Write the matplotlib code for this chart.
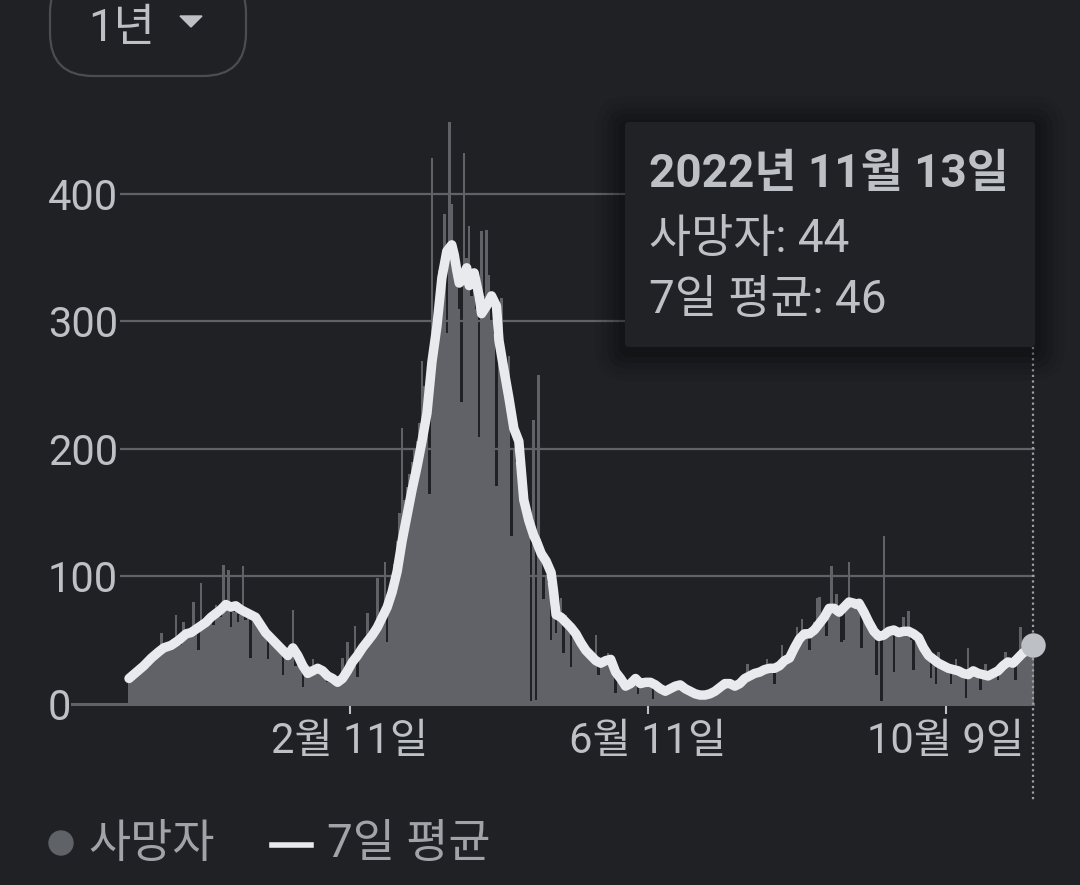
import numpy as np
import pandas as pd
import matplotlib
matplotlib.use('Agg')
import matplotlib.pyplot as plt
from matplotlib.patches import FancyBboxPatch, Circle, Polygon

plt.rcParams['font.family'] = ['Roboto', 'Noto Sans CJK KR', 'DejaVu Sans']

# 일별 사망자 (2021-11-14 ~ 2022-11-13), 월별로 나눠서
start_date = pd.Timestamp('2021-11-14')
d_nov21 = [18, 22, 24, 21, 28, 26, 30, 33, 29, 38, 35, 40, 44, 56, 42, 47, 45]
d_dec21 = [48, 44, 70, 50, 46, 64, 52, 55, 58, 80, 60, 42, 95, 62, 60, 66, 70, 62, 78, 72,
           68, 109, 74, 105, 60, 72, 80, 64, 70, 108, 66]
d_jan22 = [70, 36, 72, 66, 64, 58, 60, 52, 35, 55, 50, 46, 48, 42, 23, 40, 38, 44, 74, 30,
           34, 28, 13, 24, 22, 30, 35, 26, 30, 24, 28]
d_feb22 = [22, 17, 22, 20, 18, 16, 19, 36, 22, 49, 28, 34, 61, 21, 40, 44, 48, 71, 50, 56,
           60, 99, 64, 70, 111, 49, 88, 96]
d_mar22 = [110, 128, 150, 216, 160, 170, 180, 190, 200, 206, 220, 269, 249, 240, 165, 428,
           300, 320, 340, 350, 384, 291, 456, 392, 360, 340, 310, 237, 432, 350, 375]
d_apr22 = [320, 330, 310, 209, 371, 320, 372, 336, 300, 290, 171, 280, 318, 250, 240, 273,
           132, 200, 190, 180, 206, 160, 150, 140, 2, 223, 3, 258, 120, 82]
d_may22 = [100, 95, 50, 90, 56, 75, 83, 40, 70, 62, 29, 58, 55, 50, 48, 45, 42, 40, 38, 36,
           54, 23, 32, 30, 34, 40, 30, 24, 9, 22, 20]
d_jun22 = [16, 14, 18, 16, 20, 22, 8, 18, 16, 18, 17, 15, 4, 16, 14, 12, 10, 9, 12, 13,
           14, 15, 16, 15, 17, 12, 10, 9, 8, 7]
d_jul22 = [8, 7, 9, 4, 8, 9, 10, 12, 11, 14, 15, 18, 16, 17, 13, 14, 15, 16, 18, 21,
           31, 22, 23, 24, 26, 25, 27, 26, 35, 28, 27]
d_aug22 = [16, 29, 31, 46, 33, 35, 38, 42, 48, 60, 52, 67, 56, 58, 42, 60, 64, 83, 84, 70,
           72, 53, 78, 108, 76, 86, 74, 49, 50, 78, 111]
d_sep22 = [80, 76, 82, 78, 44, 70, 66, 60, 56, 54, 23, 55, 2, 132, 56, 60, 58, 25, 60, 56,
           58, 68, 55, 73, 50, 27, 52, 48, 45, 42]
d_oct22 = [38, 36, 20, 34, 16, 41, 30, 29, 28, 27, 16, 28, 35, 26, 25, 24, 5, 44, 24, 26,
           25, 24, 11, 23, 31, 22, 23, 25, 26, 19, 28]
d_nov22 = [30, 41, 33, 32, 34, 19, 38, 60, 40, 42, 43, 45, 44]

deaths = (d_nov21 + d_dec21 + d_jan22 + d_feb22 + d_mar22 + d_apr22 + d_may22 +
          d_jun22 + d_jul22 + d_aug22 + d_sep22 + d_oct22 + d_nov22)
days = np.arange(len(deaths))

# 7일 평균 (시작일로부터 며칠째, 값)
avg_day = [0, 3, 6, 9, 12, 14, 17, 20, 23, 25, 28, 31, 33, 35, 37, 39, 41, 43, 45, 47,
           49, 51, 53, 55, 57, 59, 61, 63, 64, 66, 68, 70, 72, 74, 76, 78, 80, 82, 84, 86,
           88, 90, 92, 94, 96, 98, 100, 102, 104, 106, 108, 110, 112, 114, 116, 118, 120,
           122, 124, 126, 128, 130, 131, 132, 133, 134, 136, 137, 139, 141, 142, 144, 146,
           148, 149, 151, 153, 155, 157, 159, 161, 163, 164, 166, 168, 170, 171, 172, 174,
           176, 178, 180, 182, 184, 186, 188, 190, 192, 194, 196, 198, 200, 202, 204, 206,
           208, 210, 212, 214, 216, 218, 220, 222, 224, 226, 228, 230, 232, 234, 236, 238,
           240, 242, 244, 246, 248, 250, 252, 254, 256, 258, 260, 262, 264, 266, 268, 270,
           272, 274, 276, 278, 280, 282, 284, 286, 288, 290, 292, 293, 294, 296, 298, 300,
           302, 304, 306, 308, 310, 312, 314, 316, 318, 320, 322, 324, 326, 328, 330, 332,
           334, 336, 338, 340, 342, 344, 346, 348, 350, 352, 354, 356, 358, 360, 362, 364]
avg_val = [20, 25, 30, 36, 41, 44, 46, 50, 55, 56, 60, 64, 68, 71, 74, 78, 76, 77, 74, 72,
           70, 68, 62, 56, 52, 48, 44, 40, 38, 44, 38, 30, 24, 26, 28, 26, 22, 20, 17, 20,
           26, 33, 38, 44, 49, 54, 60, 68, 76, 88, 104, 128, 148, 168, 186, 206, 228,
           268, 296, 334, 355, 360, 352, 340, 330, 332, 342, 328, 338, 320, 306, 312, 320,
           312, 285, 262, 240, 216, 206, 160, 144, 132, 128, 118, 112, 103, 88, 70, 68,
           64, 60, 55, 48, 42, 38, 34, 32, 34, 35, 25, 20, 14, 16, 20, 16,
           17, 17, 15, 12, 10, 12, 14, 15, 12, 10, 8, 7, 7, 8, 10, 13,
           16, 16, 14, 16, 20, 22, 24, 25, 27, 28, 28, 30, 34, 36, 44, 51,
           55, 55, 58, 63, 68, 75, 75, 72, 76, 80, 79, 78, 79, 72, 64, 57,
           53, 54, 57, 58, 56, 57, 57, 55, 52, 44, 38, 35, 32, 30, 28, 27,
           26, 24, 23, 26, 24, 23, 22, 24, 26, 30, 33, 32, 36, 40, 42, 46]

tick_dates = ['2022-02-11', '2022-06-11', '2022-10-09']
tick_labels = ['2월 11일', '6월 11일', '10월 9일']
y_ticks = [0, 100, 200, 300, 400]

tip_title = '2022년 11월 13일'
tip_deaths = 44
tip_avg = 46

bg = '#202124'
grid_c = '#5f6368'
bar_c = '#606267'
line_c = '#e8eaed'
text_c = '#bdc1c6'

W, H = 1080, 885
fig = plt.figure(figsize=(W / 100, H / 100), dpi=100, facecolor=bg)

# 본 차트 (픽셀 기준으로 위치 잡음)
left_px, right_px, top_px, bot_px = 120, 1035, 115, 704
ax = fig.add_axes([left_px / W, (H - bot_px) / H, (right_px - left_px) / W, (bot_px - top_px) / H])
ax.set_facecolor(bg)
px_per_day = 2.483
x0 = 129
ax.set_xlim((left_px - x0) / px_per_day, (right_px - x0) / px_per_day)
ax.set_ylim(0, (bot_px - top_px) / 1.2755)

for s in ax.spines.values():
    s.set_visible(False)

for v in y_ticks[1:]:
    ax.axhline(v, color=grid_c, lw=1.6, zorder=1)
# 0 선은 왼쪽으로 더 길게
ax.plot([(72 - left_px) / (right_px - left_px), (1033 - left_px) / (right_px - left_px)], [0, 0],
        transform=ax.get_yaxis_transform(), color=grid_c, lw=2.2, clip_on=False, zorder=4)

ax.bar(days, deaths, width=1.0, color=bar_c, linewidth=0, zorder=2)
ax.plot(avg_day, avg_val, color=line_c, lw=6.8, solid_joinstyle='round',
        solid_capstyle='round', zorder=3)
ax.scatter([avg_day[-1]], [avg_val[-1]], s=310, color=text_c, zorder=5, clip_on=False,
           linewidths=0)

# 점선 (툴팁 위치)
ax.plot([days[-1], days[-1]], [(bot_px - 347) / (bot_px - top_px), (bot_px - 800) / (bot_px - top_px)],
        transform=ax.get_xaxis_transform(), color='#9aa0a6', lw=1.6,
        linestyle=(0, (1, 1.5)), clip_on=False, zorder=4)

tick_pos = [(pd.Timestamp(t) - start_date).days for t in tick_dates]
ax.set_xticks(tick_pos)
ax.set_xticklabels(tick_labels, fontsize=30, color=text_c)
ax.tick_params(axis='x', length=7, width=1.5, color=text_c, pad=5)

ax.set_yticks(y_ticks)
ax.set_yticklabels([str(v) for v in y_ticks], fontsize=30, color=text_c)
ax.tick_params(axis='y', length=0, pad=(left_px - 48) * 0.72)
for lbl in ax.get_yticklabels():
    lbl.set_horizontalalignment('left')

# 오버레이 (툴팁, 범례, 버튼)
ov = fig.add_axes([0, 0, 1, 1], zorder=10)
ov.set_xlim(0, W)
ov.set_ylim(H, 0)
ov.axis('off')
ov.patch.set_alpha(0)

# 버튼
ov.add_patch(FancyBboxPatch((50, -30), 196, 106, boxstyle='round,pad=0,rounding_size=43',
                            facecolor='none', edgecolor='#4a4d51', lw=1.6))
ov.text(88, 29, '1년', fontsize=32.5, color=text_c, va='center', ha='left')
ov.add_patch(Polygon([(180, 16), (202, 16), (191, 27)], closed=True, color=text_c))

# 툴팁 그림자 + 박스
for i, a in enumerate([0.05, 0.06, 0.08, 0.1, 0.12]):
    g = 30 - i * 6
    ov.add_patch(FancyBboxPatch((625 - g, 122 - g + 4), 410 + 2 * g, 225 + 2 * g,
                                boxstyle='round,pad=0,rounding_size=%d' % (g + 4),
                                facecolor='black', edgecolor='none', alpha=a))
ov.add_patch(FancyBboxPatch((625, 122), 410, 225, boxstyle='round,pad=0,rounding_size=4',
                            facecolor='#212226', edgecolor='none'))
ov.text(649, 174, tip_title, fontsize=33, fontweight='bold', color=text_c, va='center')
ov.text(649, 239, '사망자: %d' % tip_deaths, fontsize=33, color=text_c, va='center')
ov.text(649, 300, '7일 평균: %d' % tip_avg, fontsize=33, color=text_c, va='center')

# 범례
ov.add_patch(Circle((61, 843), 12, color=grid_c))
ov.text(88, 844, '사망자', fontsize=33, color='#a0a4a8', va='center')
ov.plot([272, 311], [845, 845], color=line_c, lw=4)
ov.text(327, 844, '7일 평균', fontsize=33, color='#a0a4a8', va='center')

fig.savefig('out.png', dpi=100, facecolor=bg)
